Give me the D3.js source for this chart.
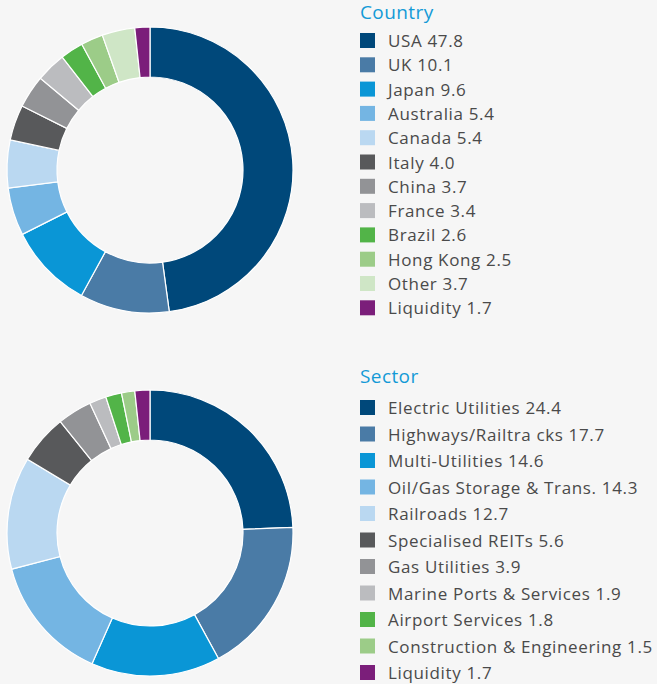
<!DOCTYPE html>
<html>
<head>
    <title>Country and Sector Allocation</title>
    <script src="https://d3js.org/d3.v7.min.js"></script>
    <style>
        body { margin: 0; background: #f6f6f6; }
        text { font-family: "Open Sans", sans-serif; }
    </style>
</head>
<body>
    <script>
        // Data
        const countryNames = ["USA", "UK", "Japan", "Australia", "Canada", "Italy", "China", "France", "Brazil", "Hong Kong", "Other", "Liquidity"];
        const countryValues = [47.8, 10.1, 9.6, 5.4, 5.4, 4.0, 3.7, 3.4, 2.6, 2.5, 3.7, 1.7];

        const sectorNames = ["Electric Utilities", "Highways/Railtra cks", "Multi-Utilities", "Oil/Gas Storage & Trans.", "Railroads", "Specialised REITs", "Gas Utilities", "Marine Ports & Services", "Airport Services", "Construction & Engineering", "Liquidity"];
        const sectorValues = [24.4, 17.7, 14.6, 14.3, 12.7, 5.6, 3.9, 1.9, 1.8, 1.5, 1.7];

        const countryColors = ["#00487a", "#4a7ba6", "#0a96d6", "#74b5e3", "#bad8f1", "#58595b", "#929396", "#bbbcbf", "#52b448", "#9ccc88", "#cfe6c6", "#7b1e7a"];
        const sectorColors = ["#00487a", "#4a7ba6", "#0a96d6", "#74b5e3", "#bad8f1", "#58595b", "#929396", "#bbbcbf", "#52b448", "#9ccc88", "#7b1e7a"];

        const width = 657, height = 684;

        const svg = d3.select("body")
          .append("svg")
            .attr("width", width)
            .attr("height", height);

        function drawPanel(title, names, values, colors, cy, titleY, rowStart, rowStep) {
            const data = names.map((n, i) => ({name: n, value: values[i], color: colors[i]}));

            const pie = d3.pie().sort(null).value(d => d.value);
            const arc = d3.arc().innerRadius(93).outerRadius(143);

            const g = svg.append("g")
              .attr("transform", `translate(150,${cy})`);

            g.selectAll("path")
              .data(pie(data))
              .enter()
              .append("path")
                .attr("d", arc)
                .attr("fill", d => d.data.color)
                .attr("stroke", "#ffffff")
                .attr("stroke-width", 1.2);

            // legend title
            svg.append("text")
              .attr("x", 360)
              .attr("y", titleY)
              .style("font-size", "19px")
              .style("letter-spacing", "0.4px")
              .style("fill", "#139ad6")
              .text(title);

            const leg = svg.append("g");
            const rows = leg.selectAll("g")
              .data(data)
              .enter()
              .append("g")
                .attr("transform", (d, i) => `translate(360,${rowStart + i * rowStep})`);

            rows.append("rect")
              .attr("x", 0)
              .attr("y", -7.5)
              .attr("width", 15)
              .attr("height", 15)
              .attr("fill", d => d.color);

            rows.append("text")
              .attr("x", 28)
              .attr("y", 6.5)
              .style("font-size", "17px")
              .style("letter-spacing", "0.65px")
              .style("fill", "#4a4a4a")
              .text(d => d.name + " " + d.value.toFixed(1));
        }

        drawPanel("Country", countryNames, countryValues, countryColors, 170, 19, 40.5, 24.3);
        drawPanel("Sector", sectorNames, sectorValues, sectorColors, 533, 383, 407.5, 26.5);
    </script>
</body>
</html>
